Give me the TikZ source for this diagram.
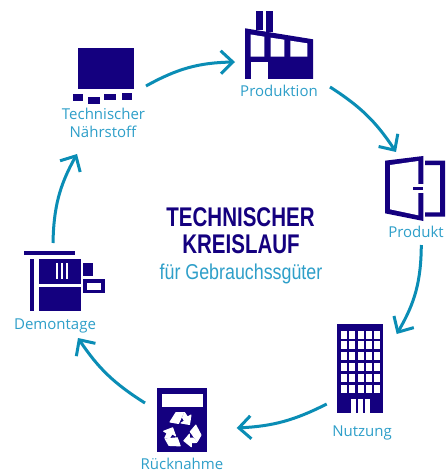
\documentclass[tikz,border=0pt]{standalone}
\usepackage{fontspec}
\usetikzlibrary{arrows.meta}
\setmainfont{Open Sans}
\newfontfamily\titlefont[FakeStretch=0.76]{Liberation Sans Bold}
\newfontfamily\subfont[FakeStretch=0.83]{Liberation Sans}
\definecolor{navy}{HTML}{14007F}
\definecolor{flow}{HTML}{0A8DB5}
\definecolor{lab}{HTML}{2E9FC9}
\tikzset{
  ink/.style={fill=navy,draw=none},
  hole/.style={fill=white,draw=none},
  lbl/.style={text=lab,font=\fontsize{15}{17}\selectfont,anchor=base,inner sep=0pt},
  flowline/.style={draw=flow,line width=3pt,-{Straight Barb[length=12pt,width=23pt,line width=3pt]}},
  rec/.style={fill=white,draw=white,line width=1pt,line join=round}
}
\begin{document}
\begin{tikzpicture}[x=1pt,y=-1pt]
\useasboundingbox[fill=white] (0,0) rectangle (446,473);
% Fabrik
\fill[ink] (256,11) rectangle (263.3,30);
\fill[ink] (265.7,11) rectangle (273.3,32);
\fill[ink] (245,28.3) -- (313,39.3) -- (313,79) -- (245,79) -- cycle;
\fill[hole] (250.7,34.5) -- (264.3,36.7) -- (264.3,56.7) -- (250.7,56.7) -- cycle;
\fill[hole] (270.7,37.7) -- (284.3,39.7) -- (284.3,56.7) -- (270.7,56.7) -- cycle;
\fill[hole] (290.3,40.7) -- (307.3,43.3) -- (307.3,56.7) -- (290.3,56.7) -- cycle;
\fill[hole] (250.7,61.7) rectangle (267.7,79);
% Tuer
\fill[ink] (385,160.7) -- (423.3,156) -- (423.3,221) -- (385,213.3) -- cycle;
\fill[hole] (390,165) -- (418.3,161) -- (418.3,215.3) -- (390,209.3) -- cycle;
\fill[hole] (417,183.5) rectangle (424,193);
\fill[ink] (413.3,186.7) rectangle (423.3,190);
\fill[ink] (425,160.7) -- (445,160.7) -- (445,216.7) -- (425,216.7) -- (425,212.3) -- (440,212.3) -- (440,165) -- (425,165) -- cycle;
% Gebaeude
\fill[ink] (337,324) rectangle (383,413);
\foreach \cx in {341.3,349.3,357.7,365.7,373.7}
  \foreach \cy in {330.7,341,352,362.7,373.7,384.7}
    \fill[hole] (\cx,\cy) rectangle ++(5.8,8.2);
\fill[hole] (350.7,399) rectangle (370,413);
\fill[ink] (356,399) rectangle (357.7,413);
\fill[ink] (363,399) rectangle (364.7,413);
% Ruecknahme
\fill[ink] (157,388) rectangle (207,452);
\fill[hole] (162,394) rectangle (203,407);
\begin{scope}[shift={(182,431)}]
  \foreach \r in {0,120,240}{
    \begin{scope}[rotate=\r]
      \filldraw[rec] (-12,-9) -- (-6,-18.5) -- (1.5,-18.5) -- (-3.5,-7.5) -- cycle;
      \filldraw[rec] (2.5,-18.5) -- (5.5,-14) -- (9,-16) -- (7.5,-6.5) -- (-1,-8) -- (2.5,-10) -- (0.5,-13.5) -- cycle;
    \end{scope}
  }
\end{scope}
% Demontage
\fill[ink] (24,251) rectangle (75,255);
\fill[ink] (30,259) rectangle (34,311);
\fill[ink] (39,259) rectangle (81,284);
\fill[ink] (39,287) rectangle (81,311);
\foreach \sx in {56,61,66} \fill[hole] (\sx,263) rectangle ++(2,16);
\fill[ink] (83,263) rectangle (93,276);
\fill[ink] (83,279) rectangle (105,293);
\fill[hole] (87,283) rectangle (101,290);
% Naehrstoff
\fill[ink] (78,48) rectangle (134,89);
\fill[ink] (73,94) rectangle (83,101);
\fill[ink] (88,97) rectangle (100,104);
\fill[ink] (104,94) rectangle (116,100);
\fill[ink] (122,93) rectangle (132,100);
% Texte
\node[lbl] (produktion) at (279,97) {Produktion};
\node[lbl] (produkt) at (416,237) {Produkt};
\node[lbl] (nutzung) at (362,436) {Nutzung};
\node[lbl] (ruecknahme) at (182,469) {Rücknahme};
\node[lbl] (demontage) at (55,329) {Demontage};
\node[lbl] (technischer) at (103.5,120) {Technischer};
\node[lbl] (naehrstoff) at (103,138) {Nährstoff};
\node[anchor=base,inner sep=0pt,text=navy,font=\titlefont\fontsize{27}{29}\selectfont] (t1) at (240.5,226.5) {TECHNISCHER};
\node[anchor=base,inner sep=0pt,text=navy,font=\titlefont\fontsize{27}{29}\selectfont] (t2) at (241,253) {KREISLAUF};
\node[anchor=base,inner sep=0pt,text=lab,font=\subfont\fontsize{21.5}{23}\selectfont] (t3) at (241,279) {für Gebrauchssgüter};
% Pfeile
\coordinate (a1s) at (146,86);   \coordinate (a1e) at (235,62);
\coordinate (a2s) at (330,87);   \coordinate (a2e) at (396,152);
\coordinate (a3s) at (421.3,245);\coordinate (a3e) at (396.7,334);
\coordinate (a4s) at (326.7,404);\coordinate (a4e) at (236.7,428);
\coordinate (a5s) at (145,403);  \coordinate (a5e) at (78,338);
\coordinate (a6s) at (53,243);   \coordinate (a6e) at (77,154);
\draw[flowline] (a1s) to[bend left=14] (a1e);
\draw[flowline] (a2s) to[bend left=12] (a2e);
\draw[flowline] (a3s) to[bend left=15] (a3e);
\draw[flowline] (a4s) to[bend left=12] (a4e);
\draw[flowline] (a5s) to[bend left=12] (a5e);
\draw[flowline] (a6s) to[bend left=14] (a6e);
\end{tikzpicture}
\end{document}
